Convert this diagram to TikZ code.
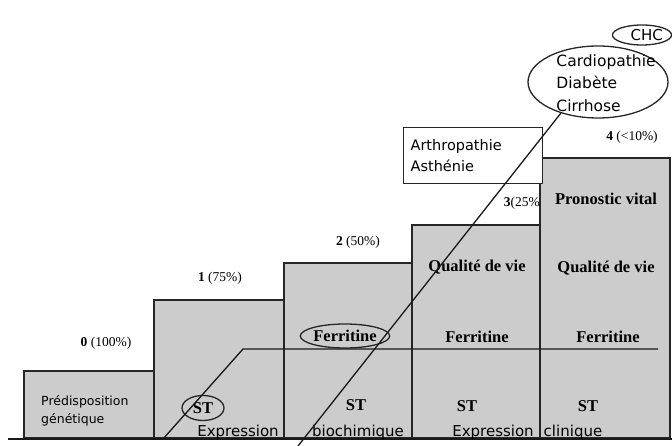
\documentclass[tikz,border=0pt]{standalone}
\usepackage{fontspec}
\setmainfont{Liberation Serif}
\newfontfamily\handfont{DejaVu Sans}
\usetikzlibrary{shapes.geometric, positioning}

\begin{document}
\begin{tikzpicture}[
        x=1pt, y=-1pt,
        every node/.style={inner sep=1pt},
        stage/.style={draw=black!85, line width=1.6pt, fill=black!20,
          anchor=south west, minimum width=130pt, minimum height=#1},
        stagelabel/.style={font=\fontsize{13.5}{15}\selectfont},
        boldtext/.style={font=\bfseries\fontsize{16.5}{18}\selectfont},
        handtext/.style={font=\handfont\fontsize{15}{18}\selectfont, align=left},
        ring/.style={ellipse, draw=black!85, line width=1.3pt, inner sep=0pt},
        trend/.style={draw=black!90, line width=1.3pt},
    ]
        \useasboundingbox (0,0) rectangle (672,446);

        \node[stagelabel] (l0) at (106,343) {\textbf{0} (100\%)};
        \node[stagelabel] (l1) at (220,278) {\textbf{1} (75\%)};
        \node[stagelabel] (l2) at (358,242) {\textbf{2} (50\%)};
        \node[stagelabel] (l3) at (524,203) {\textbf{3}(25\%)};
        \node[stagelabel] (l4) at (632,137) {\textbf{4} (<10\%)};

        \node[stage=67pt]  (s0) at (23,439) {};
        \node[stage=138pt] (s1) at (153,439) {};
        \node[stage=175pt] (s2) at (283,439) {};
        \node[stage=213pt] (s3) at (411,439) {};
        \node[stage=280pt] (s4) at (539,439) {};
        \coordinate (groundl) at (8,439);
        \coordinate (groundr) at (672,439);
        \draw[trend, line width=1.8pt] (groundl) -- (groundr);

        % stage 0 and 1
        \node[handtext, font=\handfont\fontsize{12.5}{18}\selectfont, anchor=west]
          (predis) at (40,411) {Prédisposition\\génétique};
        \node[ring, boldtext, minimum width=42pt, minimum height=25pt] (st1) at (203,408) {ST};
        \node[handtext] (expr1) at (238,432) {Expression};

        % stage 2
        \node[boldtext] (st2) at (356,405) {ST};
        \node[handtext] (bioch) at (358,432) {biochimique};
        \node[ring, boldtext, minimum width=88pt, minimum height=24pt] (fer2) at (345,336) {Ferritine};

        % stage 3
        \node[boldtext] (qv3) at (477,267) {Qualité de vie};
        \node[boldtext] (fer3) at (477,337) {Ferritine};
        \node[boldtext] (st3) at (467,406) {ST};
        \node[handtext] (expr3) at (493,432) {Expression};

        % stage 4
        \node[boldtext] (pv4) at (606,199) {Pronostic vital};
        \node[boldtext] (qv4) at (606,268) {Qualité de vie};
        \node[boldtext] (fer4) at (608,337) {Ferritine};
        \node[boldtext] (st4) at (588,406) {ST};
        \node[handtext] (clin) at (573,432) {clinique};

        \node[handtext, draw=black!85, line width=1.2pt, fill=white, anchor=north west,
          text width=125pt, inner xsep=7pt, minimum height=56pt,
          font=\handfont\fontsize{14.5}{21}\selectfont] (symptoms) at (403,127) {Arthropathie\\Asthénie};

        \node[ring, minimum width=140pt, minimum height=72pt] (causering) at (598,82) {};
        \node[handtext, font=\handfont\fontsize{15.5}{22.5}\selectfont] (causes) at (606,83)
          {Cardiopathie\\Diabète\\Cirrhose};
        \node[ring, minimum width=55pt, minimum height=20pt, handtext] (chc) at (642,35) {\ \ CHC};

        \coordinate (ferstart) at (163,439);
        \coordinate (ferknee) at (243,349);
        \coordinate (ferend) at (658,349);
        \draw[trend] (ferstart) -- (ferknee) -- (ferend);

        \coordinate (risebase) at (298,446);
        \draw[trend] (risebase) -- (causering.220);
    \end{tikzpicture}
\end{document}
